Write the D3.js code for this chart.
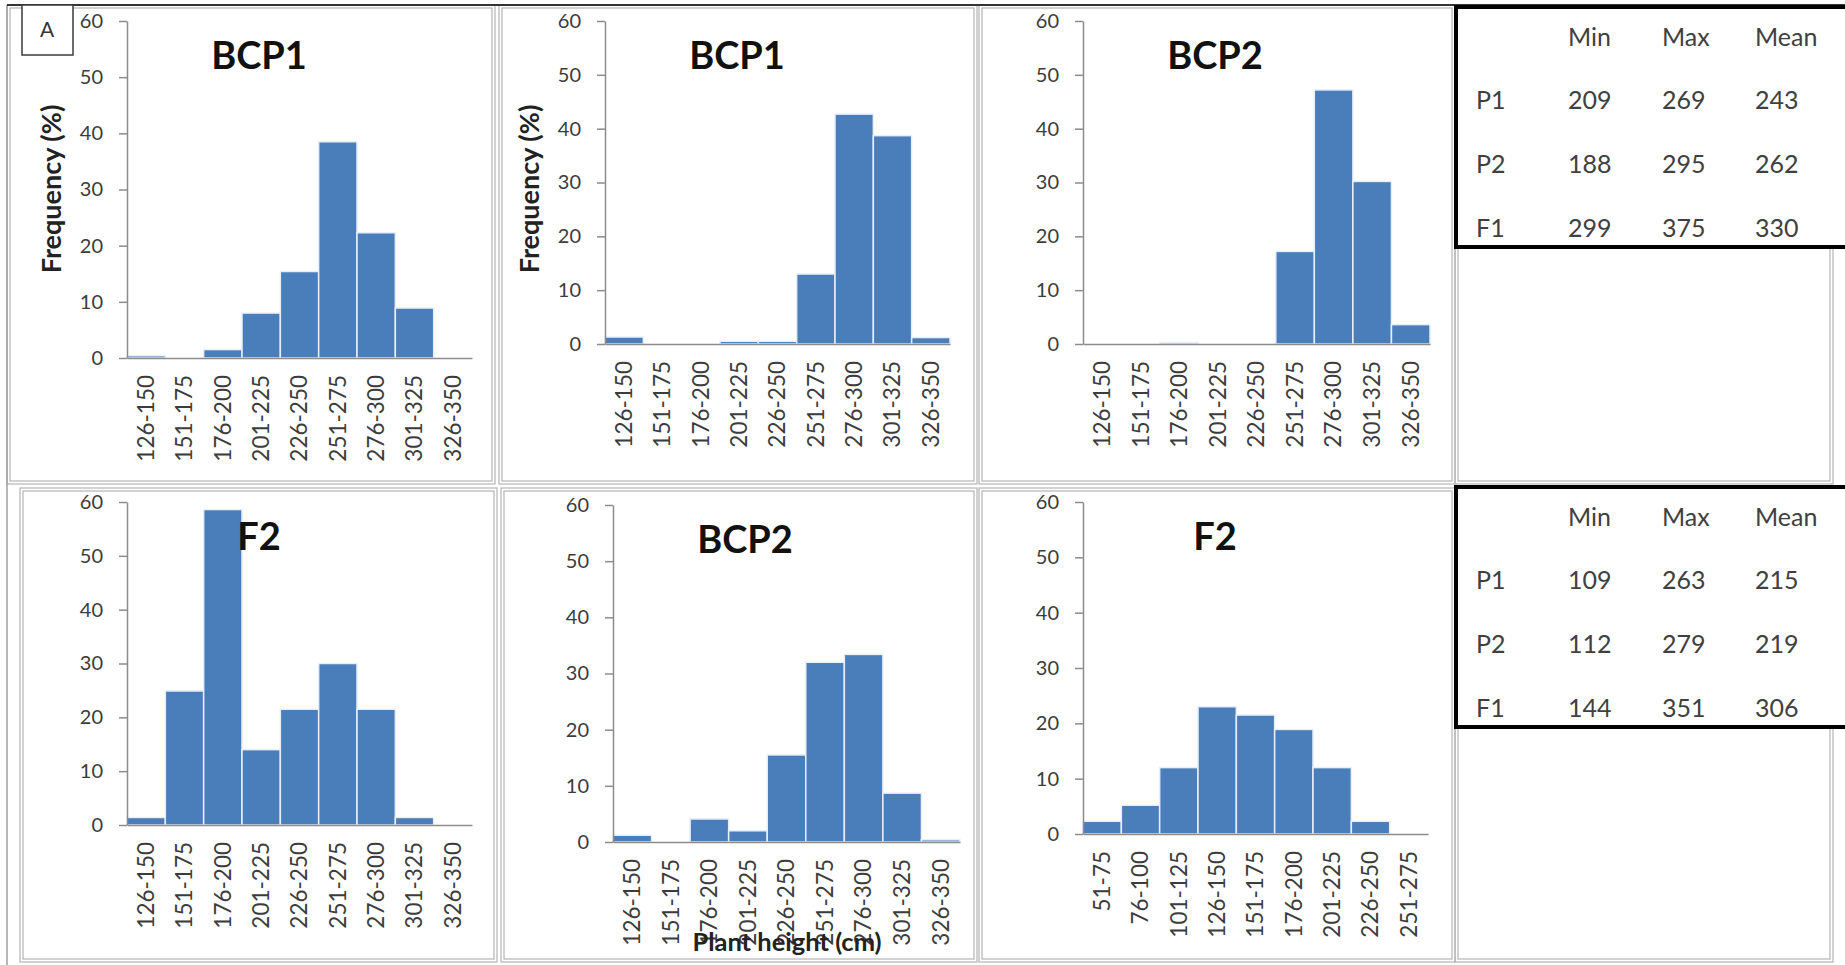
<!DOCTYPE html>
<html>
<head>
    <title>Plant height distributions</title>
    <script src="https://d3js.org/d3.v7.min.js"></script>
    <style>
        body { margin: 0; background: #fff; }
        text { font-family: "Lato", "Open Sans", sans-serif; }
        .tick text { fill: #3c3c3c; }
        .frame { fill: none; stroke: #b4b4b4; stroke-width: 1.2px; }
        .bar { fill: #4a7ebb; stroke: #e9eff8; stroke-width: 1.5px; }
        .title { font-weight: bold; font-size: 38px; fill: #111; text-anchor: middle; }
        .axis-label { font-weight: bold; fill: #222; text-anchor: middle; }
        .cell { font-size: 25px; fill: #404040; }
    </style>
</head>
<body>
<div id="chart"></div>
<script>
    // height classes
    var classesHigh = ["126-150", "151-175", "176-200", "201-225", "226-250", "251-275", "276-300", "301-325", "326-350"];
    var classesLow = ["51-75", "76-100", "101-125", "126-150", "151-175", "176-200", "201-225", "226-250", "251-275"];

    // frequency (%) per class
    var bcp1First = [0.4, 0, 1.5, 8.0, 15.4, 38.5, 22.3, 8.9, 0];
    var bcp1Second = [1.3, 0, 0, 0.5, 0.5, 13.0, 42.7, 38.7, 1.2];
    var bcp2First = [0, 0, 0.3, 0, 0, 17.2, 47.2, 30.2, 3.6];
    var f2First = [1.4, 24.9, 58.6, 14.0, 21.5, 30.0, 21.5, 1.4, 0];
    var bcp2Second = [1.2, 0, 4.1, 2.0, 15.5, 32.0, 33.4, 8.7, 0.4];
    var f2Second = [2.3, 5.2, 12.0, 23.0, 21.5, 18.9, 12.0, 2.3, 0];

    var yTicks = [0, 10, 20, 30, 40, 50, 60];

    // parent summary tables
    var tableCols = ["Min", "Max", "Mean"];
    var tableRows = ["P1", "P2", "F1"];
    var tableTop = [[209, 269, 243], [188, 295, 262], [299, 375, 330]];
    var tableBottom = [[109, 263, 215], [112, 279, 219], [144, 351, 306]];

    var svg = d3.select("#chart").append("svg")
        .attr("width", 1845)
        .attr("height", 965);

    // panel frames (double grey lines)
    var frames = [
        [7, 5, 495, 484], [499, 5, 977, 484], [979, 5, 1455, 484],
        [20, 488, 497, 962], [501, 488, 977, 962], [979, 488, 1455, 962],
        [1455, 5, 1833, 484], [1455, 488, 1833, 962]
    ];
    frames.forEach(f => {
        svg.append("rect").attr("class", "frame")
            .attr("x", f[0]).attr("y", f[1]).attr("width", f[2] - f[0]).attr("height", f[3] - f[1]);
        svg.append("rect").attr("class", "frame")
            .attr("x", f[0] + 3).attr("y", f[1] + 3).attr("width", f[2] - f[0] - 6).attr("height", f[3] - f[1] - 6);
    });
    svg.append("line").attr("x1", 7).attr("x2", 7).attr("y1", 5).attr("y2", 965)
        .attr("stroke", "#a0a0a0").attr("stroke-width", 1.5);
    svg.append("line").attr("x1", 7).attr("x2", 1845).attr("y1", 5).attr("y2", 5)
        .attr("stroke", "#333").attr("stroke-width", 2);

    // each chart: data + where its plot area sits
    var charts = [
        { title: "BCP1", cats: classesHigh, vals: bcp1First, x0: 127, x1: 472, yTop: 21, yBase: 358, ylab: true },
        { title: "BCP1", cats: classesHigh, vals: bcp1Second, x0: 605, x1: 950, yTop: 21, yBase: 344, ylab: true },
        { title: "BCP2", cats: classesHigh, vals: bcp2First, x0: 1083, x1: 1430, yTop: 21, yBase: 344 },
        { title: "F2", cats: classesHigh, vals: f2First, x0: 127, x1: 472, yTop: 502, yBase: 825 },
        { title: "BCP2", cats: classesHigh, vals: bcp2Second, x0: 613, x1: 960, yTop: 505, yBase: 842, xlab: true },
        { title: "F2", cats: classesLow, vals: f2Second, x0: 1083, x1: 1428, yTop: 502, yBase: 834 }
    ];

    charts.forEach(c => {
        var x = d3.scaleBand().domain(c.cats).range([c.x0, c.x1]).padding(0);
        var y = d3.scaleLinear().domain([0, 60]).range([c.yBase, c.yTop]);
        var g = svg.append("g");

        g.selectAll(".bar")
            .data(c.vals)
            .enter().append("rect")
            .attr("class", "bar")
            .attr("x", (d, i) => x(c.cats[i]))
            .attr("width", x.bandwidth())
            .attr("y", d => y(d))
            .attr("height", d => c.yBase - y(d))
            .style("display", d => d > 0 ? null : "none");

        var ya = g.append("g")
            .attr("transform", "translate(" + c.x0 + ",0)")
            .call(d3.axisLeft(y).tickValues(yTicks).tickSize(8).tickSizeOuter(0).tickPadding(16));
        ya.selectAll("text").style("font-size", "20px");

        var xa = g.append("g")
            .attr("transform", "translate(0," + c.yBase + ")")
            .call(d3.axisBottom(x).tickSize(0).tickSizeOuter(0));
        xa.selectAll("text")
            .style("font-size", "22.5px")
            .style("text-anchor", "end")
            .attr("transform", "rotate(-90)")
            .attr("x", -17)
            .attr("y", 0)
            .attr("dy", "0.35em");

        g.selectAll(".domain, .tick line").attr("stroke", "#8c8c8c").attr("stroke-width", 1.5);

        g.append("text").attr("class", "title")
            .attr("x", c.x0 + 132)
            .attr("y", c.yTop + 48)
            .text(c.title);

        if (c.ylab) {
            g.append("text").attr("class", "axis-label")
                .style("font-size", "27px")
                .attr("transform", "translate(" + (c.x0 - 75) + "," + (c.yTop + 168) + ") rotate(-90)")
                .attr("dy", "0.35em")
                .text("Frequency (%)");
        }
        if (c.xlab) {
            g.append("text").attr("class", "axis-label")
                .style("font-size", "25.5px")
                .attr("x", c.x0 + 174)
                .attr("y", c.yBase + 109)
                .text("Plant height (cm)");
        }
    });

    // panel letter
    svg.append("rect").attr("x", 22).attr("y", 5).attr("width", 51).attr("height", 50)
        .attr("fill", "#fff").attr("stroke", "#3a3a3a").attr("stroke-width", 1.5);
    svg.append("text").attr("x", 47).attr("y", 30).attr("dy", "0.35em")
        .attr("text-anchor", "middle").style("font-size", "21px").attr("fill", "#333").text("A");

    // summary tables
    function drawTable(top, rows) {
        svg.append("rect").attr("x", 1456).attr("y", top)
            .attr("width", 400).attr("height", 240)
            .attr("fill", "#fff").attr("stroke", "#000").attr("stroke-width", 4);
        var colX = [1568, 1662, 1755];
        var rowY = [top + 30, top + 93, top + 157, top + 221];
        tableCols.forEach((h, j) => {
            svg.append("text").attr("class", "cell").attr("x", colX[j]).attr("y", rowY[0])
                .attr("dy", "0.35em").text(h);
        });
        rows.forEach((r, i) => {
            svg.append("text").attr("class", "cell").attr("x", 1476).attr("y", rowY[i + 1])
                .attr("dy", "0.35em").text(tableRows[i]);
            r.forEach((v, j) => {
                svg.append("text").attr("class", "cell").attr("x", colX[j]).attr("y", rowY[i + 1])
                    .attr("dy", "0.35em").text(v);
            });
        });
    }
    drawTable(7, tableTop);
    drawTable(487, tableBottom);
</script>
</body>
</html>
